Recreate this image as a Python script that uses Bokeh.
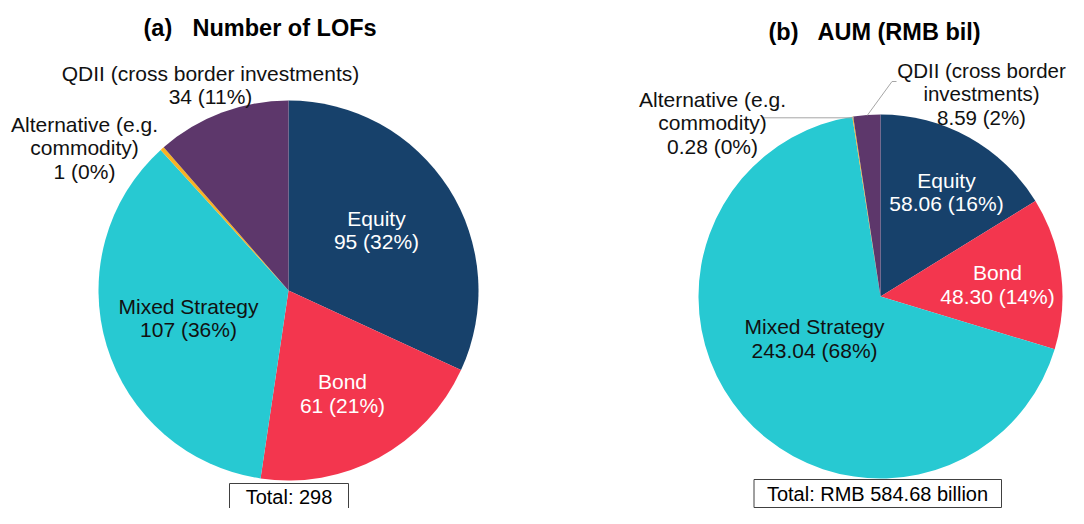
import numpy as np
from bokeh.plotting import figure
from bokeh.models import Range1d
from bokeh.core.properties import value
from bokeh.embed import file_html
from bokeh.resources import INLINE

# ---------------- data ----------------
categories = ["Equity", "Bond", "Mixed Strategy", "Alternative (e.g. commodity)",
              "QDII (cross border investments)"]
lof_counts = [95, 61, 107, 1, 34]
lof_pct = [32, 21, 36, 0, 11]
aum_values = [58.06, 48.30, 243.04, 0.28, 8.59]
aum_pct = [16, 14, 68, 0, 2]
colors = ["#17416B", "#F3364E", "#27C9D2", "#F7B223", "#5D376B"]
label_colors = ["white", "white", "#111111", "#111111", "#111111"]

left_name_lines = [["Equity"], ["Bond"], ["Mixed Strategy"],
                   ["Alternative (e.g.", "commodity)"],
                   ["QDII (cross border investments)"]]
right_name_lines = [["Equity"], ["Bond"], ["Mixed Strategy"],
                    ["Alternative (e.g.", "commodity)"],
                    ["QDII (cross border", "investments)"]]
left_total = "Total: 298"
right_total = "Total: RMB 584.68 billion"

# ---------------- layout (screen px, origin = figure top-left) ----------------
W, H = 1068, 508
FONT = value("Liberation Sans")
LINE = 23.5

left_center, left_r = (288, 290), 190
right_center, right_r = (880, 296), 182
# (x, vertical centre of first line)
left_label_pos = [(376, 217.5), (342, 381), (188, 305.5), (84, 123.5), (210, 72.5)]
right_label_pos = [(946, 179.5), (997, 272), (814, 326), (712, 98.5), (981, 69.5)]
left_label_size = ["21px"] * 5
right_label_size = ["21px", "21px", "21px", "21px", "20.5px"]

p = figure(width=W, height=H, output_backend="svg", toolbar_location=None,
           x_range=Range1d(0, W), y_range=Range1d(-H, 0),
           min_border=0, min_border_left=0, min_border_right=0,
           min_border_top=0, min_border_bottom=0)
p.axis.visible = False
p.grid.visible = False
p.outline_line_color = None
p.background_fill_color = "white"
p.border_fill_color = "white"


def draw_pie(vals, center, r):
    v = np.array(vals, dtype=float)
    frac = np.cumsum(v) / v.sum()
    starts = np.concatenate([[0.0], frac[:-1]])
    start_angle = np.pi / 2 - starts * 2 * np.pi
    end_angle = np.pi / 2 - frac * 2 * np.pi
    p.wedge(x=[center[0]] * len(v), y=[-center[1]] * len(v), radius=r,
            start_angle=start_angle, end_angle=end_angle, direction="clock",
            fill_color=colors, line_color=None)


def draw_labels(name_lines, vals_txt, pos, sizes):
    for i, (lines, vt) in enumerate(zip(name_lines, vals_txt)):
        x, y0 = pos[i]
        all_lines = lines + [vt]
        ys = [-(y0 + k * LINE) for k in range(len(all_lines))]
        p.text(x=[x] * len(all_lines), y=ys, text=all_lines,
               text_align="center", text_baseline="middle",
               text_font=FONT, text_font_size=sizes[i],
               text_color=label_colors[i])


draw_pie(lof_counts, left_center, left_r)
draw_pie(aum_values, right_center, right_r)

# leader lines (right pie)
p.line(x=[896, 891.5, 866.7], y=[-81, -81, -115], line_color="#A6A6A6", line_width=1)
p.line(x=[762, 853.5], y=[-117.3, -117.3], line_color="#A6A6A6", line_width=1)

draw_labels(left_name_lines, [f"{v} ({q}%)" for v, q in zip(lof_counts, lof_pct)],
            left_label_pos, left_label_size)
draw_labels(right_name_lines, [f"{v:.2f} ({q}%)" for v, q in zip(aum_values, aum_pct)],
            right_label_pos, right_label_size)

# titles
p.text(x=[143, 192], y=[-27.5, -27.5], text=["(a)", "Number of LOFs"],
       text_align="left", text_baseline="middle", text_font=FONT,
       text_font_size="23.5px", text_font_style="bold", text_color="black")
p.text(x=[768, 817], y=[-31, -31], text=["(b)", "AUM (RMB bil)"],
       text_align="left", text_baseline="middle", text_font=FONT,
       text_font_size="23.5px", text_font_style="bold", text_color="black")

# total boxes
p.quad(left=[229, 753.5], right=[348, 1001], top=[-483, -479], bottom=[-520, -507],
       fill_color="white", line_color="#404040", line_width=1)
p.text(x=[288.5, 877], y=[-496, -493], text=[left_total, right_total],
       text_align="center", text_baseline="middle", text_font=FONT,
       text_font_size="20px", text_color="black")

open("out.html", "w").write(file_html(p, INLINE))
